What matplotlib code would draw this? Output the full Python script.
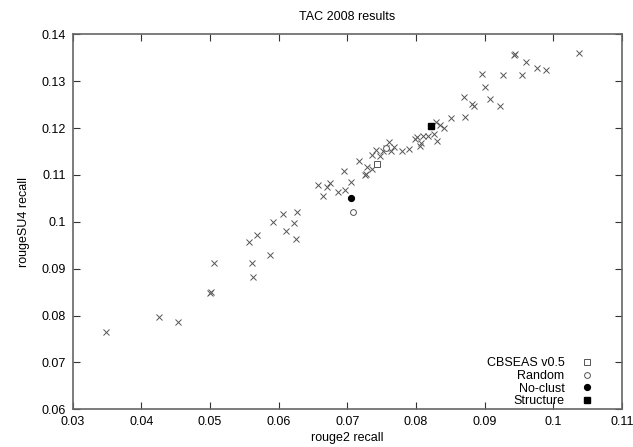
import matplotlib
matplotlib.use("Agg")
import matplotlib.pyplot as plt
from matplotlib.lines import Line2D

plt.rcParams['font.family'] = ['Liberation Sans', 'DejaVu Sans']

# TAC 2008 participants (rouge2 recall, rougeSU4 recall)
tac_x = [0.0349, 0.0425, 0.0454, 0.0500, 0.0501, 0.0506, 0.0557, 0.0561, 0.0562, 0.0569,
         0.0587, 0.0591, 0.0606, 0.0610, 0.0622, 0.0625, 0.0627, 0.0657, 0.0665, 0.0671,
         0.0674, 0.0687, 0.0695, 0.0697, 0.0705, 0.0717, 0.0726, 0.0727, 0.0729, 0.0736,
         0.0736, 0.0742, 0.0748, 0.0752, 0.0756, 0.0761, 0.0763, 0.0768, 0.0780, 0.0790,
         0.0799, 0.0802, 0.0806, 0.0807, 0.0810, 0.0818, 0.0826, 0.0829, 0.0831, 0.0835,
         0.0841, 0.0851, 0.0870, 0.0872, 0.0882, 0.0885, 0.0896, 0.0901, 0.0908, 0.0923,
         0.0927, 0.0943, 0.0944, 0.0955, 0.0960, 0.0976, 0.0989, 0.1037]
tac_y = [0.0765, 0.0796, 0.0786, 0.0849, 0.0850, 0.0912, 0.0956, 0.0913, 0.0882, 0.0971,
         0.0930, 0.1000, 0.1017, 0.0981, 0.0998, 0.0964, 0.1021, 0.1079, 0.1056, 0.1075,
         0.1083, 0.1064, 0.1108, 0.1068, 0.1085, 0.1129, 0.1100, 0.1101, 0.1117, 0.1113,
         0.1143, 0.1154, 0.1141, 0.1150, 0.1157, 0.1170, 0.1151, 0.1160, 0.1152, 0.1155,
         0.1177, 0.1180, 0.1161, 0.1168, 0.1183, 0.1184, 0.1188, 0.1213, 0.1173, 0.1206,
         0.1200, 0.1221, 0.1267, 0.1224, 0.1252, 0.1247, 0.1316, 0.1287, 0.1261, 0.1247,
         0.1314, 0.1356, 0.1357, 0.1313, 0.1340, 0.1328, 0.1323, 0.1361]

cbseas_x = [0.0743]
cbseas_y = [0.1123]
random_x = [0.0708, 0.0757]
random_y = [0.1021, 0.1157]
noclust_x = [0.0706]
noclust_y = [0.1051]
structure_x = [0.0822]
structure_y = [0.1204]

xticks = [0.03, 0.04, 0.05, 0.06, 0.07, 0.08, 0.09, 0.1, 0.11]
yticks = [0.06, 0.07, 0.08, 0.09, 0.1, 0.11, 0.12, 0.13, 0.14]
xtick_labels = ['0.03', '0.04', '0.05', '0.06', '0.07', '0.08', '0.09', '0.1', '0.11']
ytick_labels = ['0.06', '0.07', '0.08', '0.09', '0.1', '0.11', '0.12', '0.13', '0.14']

fig = plt.figure(figsize=(6.33, 4.47), dpi=100)
ax = fig.add_axes([0.1149, 0.0843, 0.8677, 0.839])

ax.plot(tac_x, tac_y, linestyle='none', marker='x', markersize=5, markeredgewidth=0.7,
        color='#555555')
h1, = ax.plot(cbseas_x, cbseas_y, linestyle='none', marker='s', markersize=4.5,
              markerfacecolor='white', markeredgecolor='#555555', markeredgewidth=0.7,
              label='CBSEAS v0.5')
h2, = ax.plot(random_x, random_y, linestyle='none', marker='o', markersize=4.2,
              markerfacecolor='white', markeredgecolor='#555555', markeredgewidth=0.7,
              label='Random')
h3, = ax.plot(noclust_x, noclust_y, linestyle='none', marker='o', markersize=4.2,
              color='black', label='No-clust')
h4, = ax.plot(structure_x, structure_y, linestyle='none', marker='s', markersize=4.5,
              color='black', label='Structure')

ax.set_xlim(0.03, 0.11)
ax.set_ylim(0.06, 0.14)
ax.set_xticks(xticks)
ax.set_xticklabels(xtick_labels)
ax.set_yticks(yticks)
ax.set_yticklabels(ytick_labels)
ax.tick_params(direction='in', top=True, right=True, length=5, width=0.8,
               labelsize=9, color='#333333', pad=5)
for s in ax.spines.values():
    s.set_color('#666666')
    s.set_linewidth(1.2)

ax.set_title('TAC 2008 results', fontsize=9, pad=10)
ax.set_xlabel('rouge2 recall', fontsize=9, labelpad=3)
ax.set_ylabel('rougeSU4 recall', fontsize=9, labelpad=8)

leg = ax.legend(handles=[h1, h2, h3, h4], loc='lower right', frameon=False,
                markerfirst=False, fontsize=9, handlelength=1.2, handletextpad=1.2,
                labelspacing=0.05, borderaxespad=0.0,
                bbox_to_anchor=(0.959, -0.008))
for t in leg.get_texts():
    t.set_ha('right')

fig.savefig('out.png', dpi=100)
